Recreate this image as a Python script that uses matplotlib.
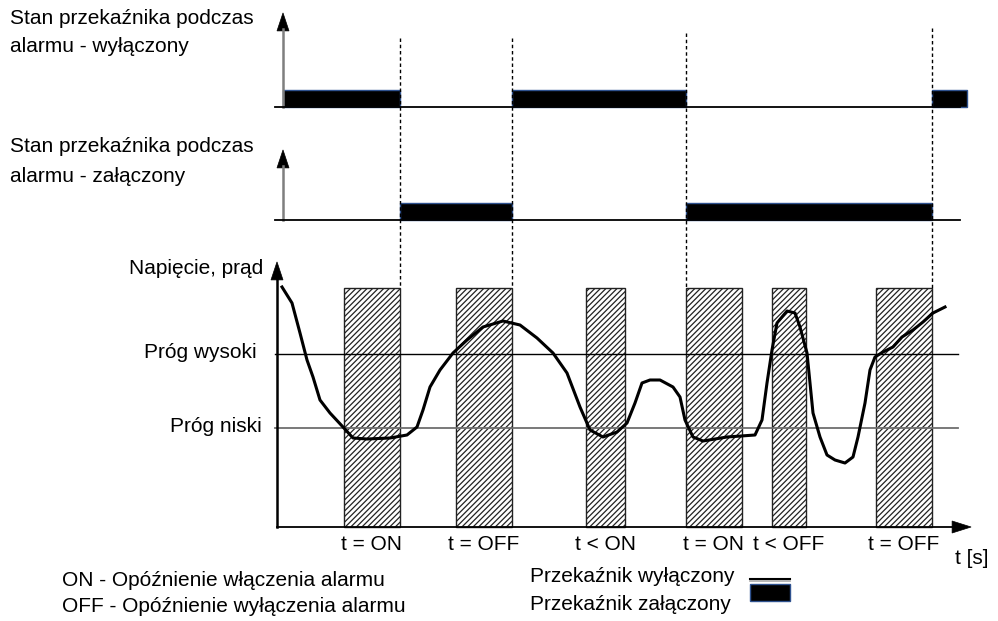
import matplotlib.pyplot as plt
from matplotlib.patches import Rectangle

plt.rcParams['font.family'] = ['Liberation Sans', 'DejaVu Sans']
plt.rcParams['hatch.linewidth'] = 0.9
plt.rcParams['hatch.color'] = '#333333'

# ---- dane (jednostki: piksele obrazu) ----
# momenty przełączenia przekaźnika
switch_t = [400, 512, 686, 932]
switch_top = [38, 38, 33, 28]

# przekaźnik "wyłączony podczas alarmu" - odcinki w stanie załączonym
relay_off_on = [(283, 400), (512, 686), (932, 967)]
# przekaźnik "załączony podczas alarmu"
relay_on_on = [(400, 512), (686, 932)]

# okna opóźnienia (zakreskowane)
win_start = [344, 456, 586, 686, 772, 876]
win_end = [400, 512, 625, 742, 806, 932]
win_labels = ['t = ON', 't = OFF', 't < ON', 't = ON', 't < OFF', 't = OFF']

# progi
thr_high = 354
thr_low = 428

# przebieg napięcia / prądu
sig_t = [282, 292, 300, 307, 313, 320, 330, 343, 353, 367, 390, 407, 417, 423,
         430, 440, 453, 467, 483, 503, 520, 537, 553, 567, 580, 590, 603, 617,
         627, 635, 642, 650, 660, 673, 680, 685, 693, 703, 727, 755, 762, 767,
         772, 777, 787, 795, 800, 807, 810, 813, 820, 827, 835, 845, 853, 858,
         865, 870, 875, 883, 893, 902, 913, 923, 933, 945]
sig_v = [287, 303, 333, 360, 377, 400, 413, 427, 438, 439, 438, 435, 427, 410,
         387, 370, 353, 340, 327, 321, 325, 338, 353, 373, 407, 430, 437, 432,
         423, 403, 383, 380, 380, 387, 397, 420, 437, 441, 437, 435, 420, 383,
         350, 323, 311, 313, 327, 353, 383, 413, 437, 455, 460, 463, 457, 437,
         403, 370, 357, 352, 347, 337, 330, 322, 313, 307]

W, H = 998, 621
fig = plt.figure(figsize=(W / 100, H / 100), dpi=100)
ax = fig.add_axes([0, 0, 1, 1])
ax.set_xlim(0, W)
ax.set_ylim(H, 0)
ax.axis('off')

FS = 15
blue = '#2f528f'
axis_gray = '#7f7f7f'


def y_axis(x, y0, tip, color=axis_gray):
    ax.plot([x, x], [y0, tip + 16], color=color, lw=1.8)
    ax.arrow(x, tip + 18, 0, -0.1, head_width=12, head_length=18,
             fc='black', ec='black', lw=0.5)


# --- panel 1 ---
ax.text(10, 18, 'Stan przekaźnika podczas', fontsize=FS, va='center')
ax.text(10, 47, 'alarmu - wyłączony', fontsize=FS, va='center')
y_axis(283, 107, 13)
ax.plot([275, 960], [107, 107], color='black', lw=1.3)
for a, b in relay_off_on:
    ax.add_patch(Rectangle((a, 90), b - a, 17, fc='black', ec=blue, lw=1))

# --- panel 2 ---
ax.text(10, 147, 'Stan przekaźnika podczas', fontsize=FS, va='center')
ax.text(10, 177, 'alarmu - załączony', fontsize=FS, va='center')
y_axis(283, 220, 150)
ax.plot([275, 960], [220, 220], color='black', lw=1.3)
for a, b in relay_on_on:
    ax.add_patch(Rectangle((a, 203), b - a, 17, fc='black', ec=blue, lw=1))

# linie przełączeń
for t, top in zip(switch_t, switch_top):
    ax.plot([t, t], [top, 288], color='black', lw=1, ls=(0, (2.5, 2)))

# --- panel 3 ---
ax.text(263, 268, 'Napięcie, prąd', fontsize=FS, va='center', ha='right')
ax.text(257, 353, 'Próg wysoki', fontsize=FS, va='center', ha='right')
ax.text(262, 427, 'Próg niski', fontsize=FS, va='center', ha='right')

for a, b, lab in zip(win_start, win_end, win_labels):
    ax.add_patch(Rectangle((a, 288), b - a, 527 - 288, fc='white',
                           ec='#222222', lw=1, hatch='//////'))
    ax.text((a + b) / 2, 545, lab, fontsize=FS, va='center', ha='center')

ax.plot([275, 958], [thr_high, thr_high], color='black', lw=1)
ax.plot([275, 958], [thr_low, thr_low], color='#6e6e6e', lw=1.3)

ax.plot(sig_t, sig_v, color='black', lw=2.2, solid_joinstyle='round')

y_axis(277, 527, 262, color='black')
ax.plot([277, 955], [527, 527], color='black', lw=1.3)
ax.arrow(952, 527, 0.1, 0, head_width=12, head_length=19,
         fc='black', ec='black', lw=0.5)
ax.text(955, 558, 't [s]', fontsize=FS, va='center', ha='left')

# --- opis ---
ax.text(62, 581, 'ON - Opóźnienie włączenia alarmu', fontsize=FS, va='center')
ax.text(62, 607, 'OFF - Opóźnienie wyłączenia alarmu', fontsize=FS, va='center')
ax.text(530, 577, 'Przekaźnik wyłączony', fontsize=FS, va='center')
ax.text(530, 605, 'Przekaźnik załączony', fontsize=FS, va='center')
ax.plot([750, 790], [578.5, 578.5], color='black', lw=1.5)
ax.plot([750, 790], [581, 581], color='#aaaaaa', lw=1.2)
ax.add_patch(Rectangle((750, 584), 40, 17, fc='black', ec=blue, lw=1))

fig.savefig('out.png', dpi=100)
